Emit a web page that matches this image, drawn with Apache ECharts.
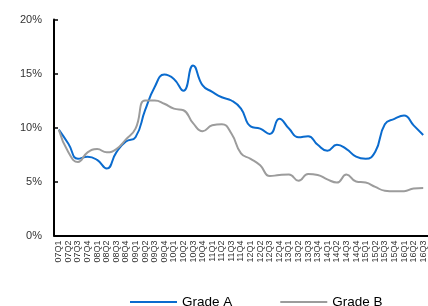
<!DOCTYPE html>
<html>
<head>
<meta charset="utf-8">
<script src="https://cdn.jsdelivr.net/npm/echarts@6/dist/echarts.min.js"></script>
<style>
  html, body { margin: 0; padding: 0; background: #fff; }
  #chart { width: 428px; height: 306px; }
</style>
</head>
<body>
<div id="chart"></div>
<script>
// quarters 07Q1 .. 16Q3
const quarters = []
for (let y = 7; y <= 16; y++) {
  for (let q = 1; q <= 4; q++) {
    if (y === 16 && q > 3) break
    quarters.push(String(y).padStart(2, '0') + 'Q' + q)
  }
}

const gradeA = [9.8, 8.5, 7.1, 7.3, 7.0, 6.2, 7.7, 8.7, 9.1, 11.6,
  13.75, 14.9, 14.5, 13.4, 15.75, 13.9, 13.3, 12.8, 12.5, 11.75,
  10.1, 9.9, 9.4, 10.8, 9.9, 9.1, 9.2, 8.4, 7.85, 8.4,
  8.0, 7.3, 7.1, 7.75, 10.3, 10.8, 11.1, 10.2, 9.3]

const gradeB = [9.8, 7.7, 6.8, 7.7, 8.0, 7.7, 8.0, 8.9, 9.9, 12.5,
  12.5, 12.2, 11.75, 11.6, 10.4, 9.66, 10.2, 10.3, 9.45, 7.6,
  7.1, 6.5, 5.5, 5.6, 5.65, 5.07, 5.7, 5.6, 5.2, 4.9,
  5.65, 5.0, 4.9, 4.5, 4.15, 4.1, 4.1, 4.35, 4.4]

const yTicks = [0, 5, 10, 15, 20]

const chart = echarts.init(document.getElementById('chart'))
chart.setOption({
  animation: false,
  textStyle: { fontFamily: 'Liberation Sans, Arial, sans-serif' },
  grid: { left: 54, right: 0, top: 19.5, bottom: 70.5 },
  legend: {
    top: 295,
    left: 130,
    padding: 0,
    itemWidth: 47,
    itemHeight: 2,
    itemGap: 48,
    textStyle: { fontSize: 13.5, color: '#000', padding: [0, 0, 0, 0] },
    data: [
      { name: 'Grade A', icon: 'rect' },
      { name: 'Grade B', icon: 'rect' }
    ]
  },
  xAxis: {
    type: 'category',
    data: quarters,
    boundaryGap: true,
    axisLine: { lineStyle: { color: '#000', width: 2 } },
    axisTick: { inside: true, alignWithLabel: true, length: 4, lineStyle: { color: '#000', width: 1.5 } },
    axisLabel: { rotate: 90, interval: 0, fontSize: 9, color: '#333', margin: 5 }
  },
  yAxis: {
    type: 'value',
    min: yTicks[0],
    max: yTicks[yTicks.length - 1],
    interval: 5,
    splitLine: { show: false },
    axisLine: { show: true, lineStyle: { color: '#000', width: 2 } },
    axisTick: { show: true, inside: true, length: 4, lineStyle: { color: '#000', width: 1.5 } },
    axisLabel: { formatter: '{value}%', fontSize: 11, color: '#333', margin: 12 }
  },
  series: [
    {
      name: 'Grade A',
      type: 'line',
      data: gradeA,
      smooth: true,
      showSymbol: false,
      itemStyle: { color: '#0a6bce' },
      lineStyle: { color: '#0a6bce', width: 2 }
    },
    {
      name: 'Grade B',
      type: 'line',
      data: gradeB,
      smooth: true,
      showSymbol: false,
      itemStyle: { color: '#9c9c9c' },
      lineStyle: { color: '#9c9c9c', width: 2 }
    }
  ]
})
</script>
</body>
</html>
